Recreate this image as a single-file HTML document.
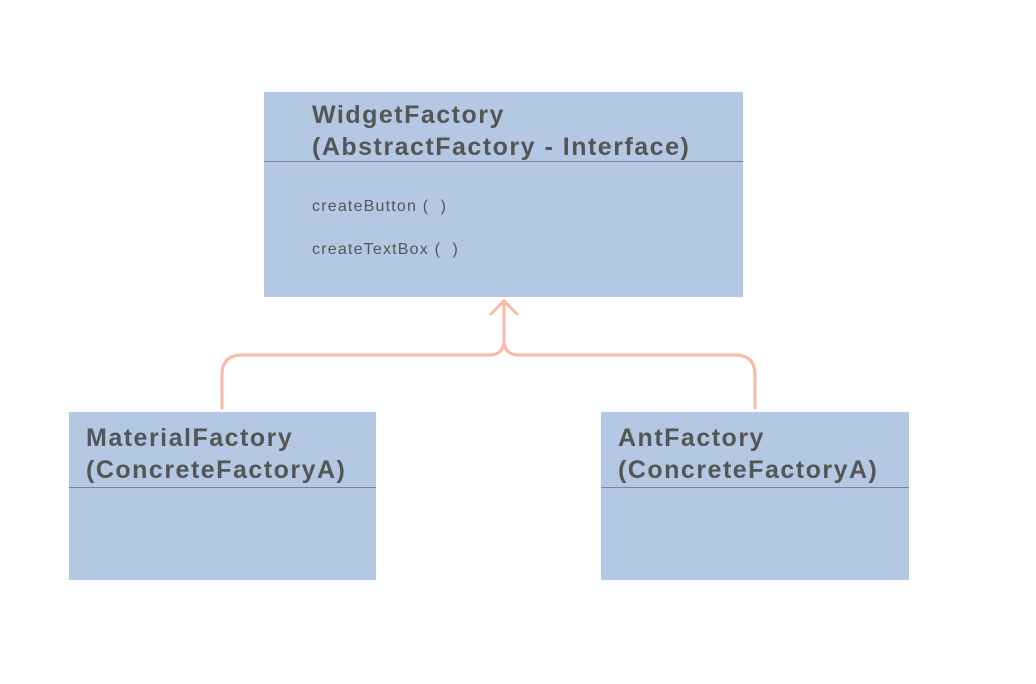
<!DOCTYPE html>
<html><head><style>
body{margin:0;width:1036px;height:684px;background:#fff;position:relative;font-family:"Liberation Sans",sans-serif;overflow:hidden}
.b{position:absolute;background:#b4c8e4}
.t{position:absolute;color:#555;font-weight:bold;font-size:25px;letter-spacing:1.5px;line-height:32px;white-space:nowrap}
.m{position:absolute;color:#555;font-size:16px;letter-spacing:1.2px;white-space:nowrap}
.d{position:absolute;height:1px;background:#7a8594}
</style></head><body>
<div class="b" style="left:264px;top:92px;width:479px;height:205px"></div>
<div class="d" style="left:264px;top:161px;width:479px"></div>
<div class="t" style="left:312px;top:99px">WidgetFactory<br>(AbstractFactory - Interface)</div>
<div class="m" style="left:312px;top:198px">createButton (&nbsp;&nbsp;)</div>
<div class="m" style="left:312px;top:241px">createTextBox (&nbsp;&nbsp;)</div>

<div class="b" style="left:69px;top:412px;width:307px;height:168px"></div>
<div class="d" style="left:69px;top:487px;width:307px"></div>
<div class="t" style="left:86px;top:422px">MaterialFactory<br>(ConcreteFactoryA)</div>

<div class="b" style="left:601px;top:412px;width:308px;height:168px"></div>
<div class="d" style="left:601px;top:487px;width:308px"></div>
<div class="t" style="left:618px;top:422px">AntFactory<br>(ConcreteFactoryA)</div>

<svg width="1036" height="684" style="position:absolute;left:0;top:0" fill="none" stroke="#fbb9a9" stroke-width="3" stroke-linecap="round">
<path d="M504 301 V340 Q504 355 489 355 H242 Q222 355 222 375 V408"/>
<path d="M504 340 Q504 355 519 355 H735 Q755 355 755 375 V408"/>
<path d="M491 314 L504 301 L517 314"/>
</svg>
</body></html>
